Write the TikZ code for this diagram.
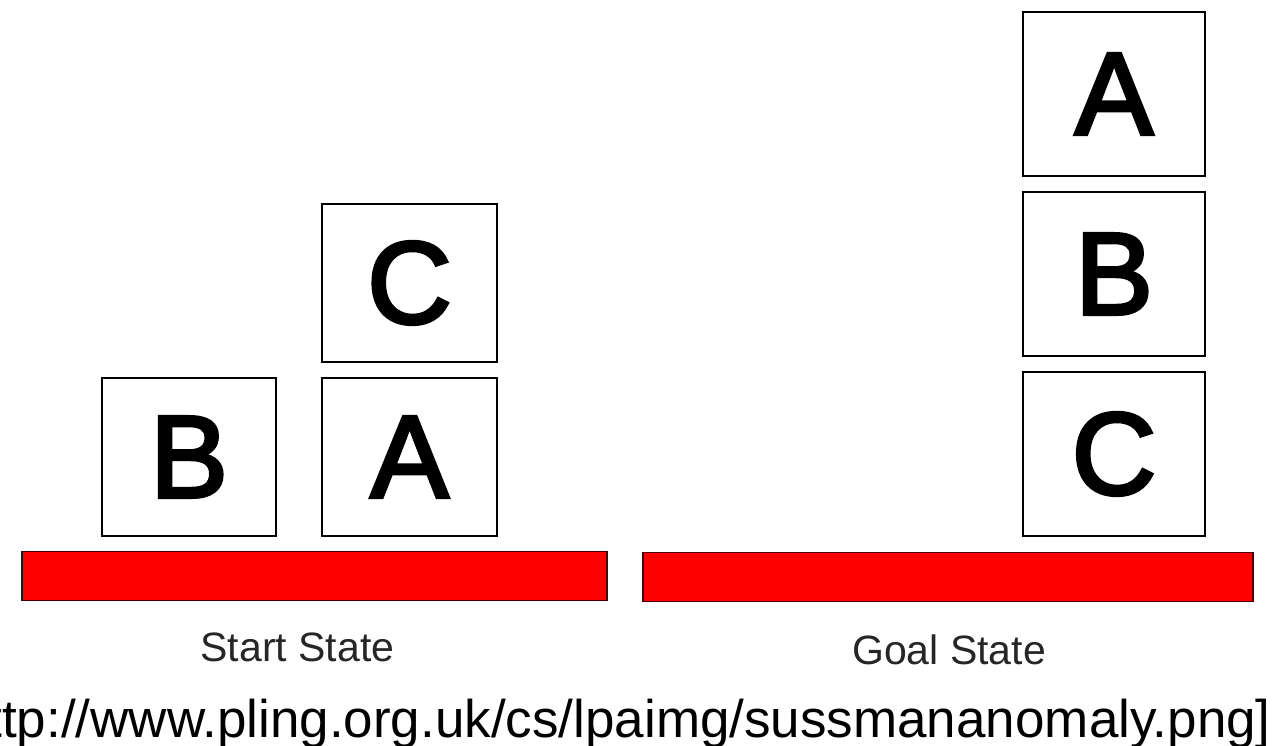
\documentclass[tikz,border=0pt]{standalone}
\usepackage{fontspec}
\setmainfont{Liberation Sans}
\newfontfamily\letterfont[FakeBold=3]{Liberation Sans}
\usepackage{tikz}
\usetikzlibrary{positioning}

\tikzset{
    block/.style={draw=black, line width=2pt, fill=white, inner sep=0pt,
        font=\letterfont\fontsize{117}{120}\selectfont},
    table/.style={draw=black!70!red, line width=1.5pt, fill=red, inner sep=0pt,
        minimum height=49pt},
    caption/.style={text=black!85, font=\fontsize{41}{44}\selectfont, inner sep=0pt}
}

\begin{document}
\begin{tikzpicture}[x=1pt, y=-1pt]
    \useasboundingbox (0,0) rectangle (1280,746);

    % start state
    \node[block, minimum width=174pt, minimum height=158pt] (b) at (189, 457) {B};
    \node[block, minimum width=175pt, minimum height=158pt] (a) at (409.5, 457) {A};
    \node[block, minimum width=175pt, minimum height=158pt] (c) at (409.5, 283) {C};
    \node[table, minimum width=585pt] (startbar) at (314.5, 576) {};
    \node[caption, anchor=base] (startlabel) at (297.5, 661) {Start State};

    % goal state
    \node[block, minimum width=182pt, minimum height=164pt] (ga) at (1114, 94) {A};
    \node[block, minimum width=182pt, minimum height=164pt] (gb) at (1114, 274) {B};
    \node[block, minimum width=182pt, minimum height=164pt] (gc) at (1114, 454) {C};
    \node[table, minimum width=610pt] (goalbar) at (948, 577) {};
    \node[caption, anchor=base] (goallabel) at (949, 664) {Goal State};

    \node[anchor=base east, inner sep=0pt, font=\fontsize{53}{57}\selectfont] (source)
        at (1271, 737) {[http://www.pling.org.uk/cs/lpaimg/sussmananomaly.png]};
\end{tikzpicture}
\end{document}
